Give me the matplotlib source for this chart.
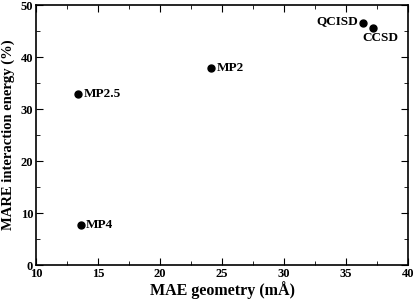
import matplotlib
matplotlib.use('Agg')
import matplotlib.pyplot as plt
from matplotlib.ticker import MultipleLocator

methods = ['MP2.5', 'MP4', 'MP2', 'QCISD', 'CCSD']
mae_geom = [13.4, 13.6, 24.1, 36.4, 37.2]
mare_energy = [32.8, 7.6, 37.9, 46.6, 45.6]

plt.rcParams['font.family'] = 'Liberation Serif'
plt.rcParams['font.weight'] = 'bold'

fig = plt.figure(figsize=(4.15, 3.02), dpi=100)
ax = fig.add_axes([36/415, 1-265/302, 372/415, 260/302])

ax.plot(mae_geom, mare_energy, 'o', color='black', markersize=5)

# label offsets in points, relative to the dot
offsets = {'MP2.5': (4, 0), 'MP4': (4, 0), 'MP2': (4, 0), 'QCISD': (-4, 1), 'CCSD': (5, -7.5)}
aligns = {'MP2.5': 'left', 'MP4': 'left', 'MP2': 'left', 'QCISD': 'right', 'CCSD': 'center'}
for m, x, y in zip(methods, mae_geom, mare_energy):
    ax.annotate(m, (x, y), xytext=offsets[m], textcoords='offset points',
                ha=aligns[m], va='center', fontsize=9.5, fontweight='bold')

ax.set_xlim(10, 40)
ax.set_ylim(0, 50)
ax.xaxis.set_major_locator(MultipleLocator(5))
ax.xaxis.set_minor_locator(MultipleLocator(2.5))
ax.yaxis.set_major_locator(MultipleLocator(10))
ax.yaxis.set_minor_locator(MultipleLocator(5))
ax.tick_params(which='both', direction='in', top=True, right=True, labelsize=9, pad=2)
ax.tick_params(which='major', length=5)
ax.tick_params(which='minor', length=3)
for s in ax.spines.values():
    s.set_linewidth(1.2)

ax.set_xlabel('MAE geometry (mÅ)', fontsize=11.5, fontweight='bold', labelpad=1)
ax.set_ylabel('MARE interaction energy (%)', fontsize=10.5, fontweight='bold', labelpad=4)

fig.savefig('out.png', dpi=100)
